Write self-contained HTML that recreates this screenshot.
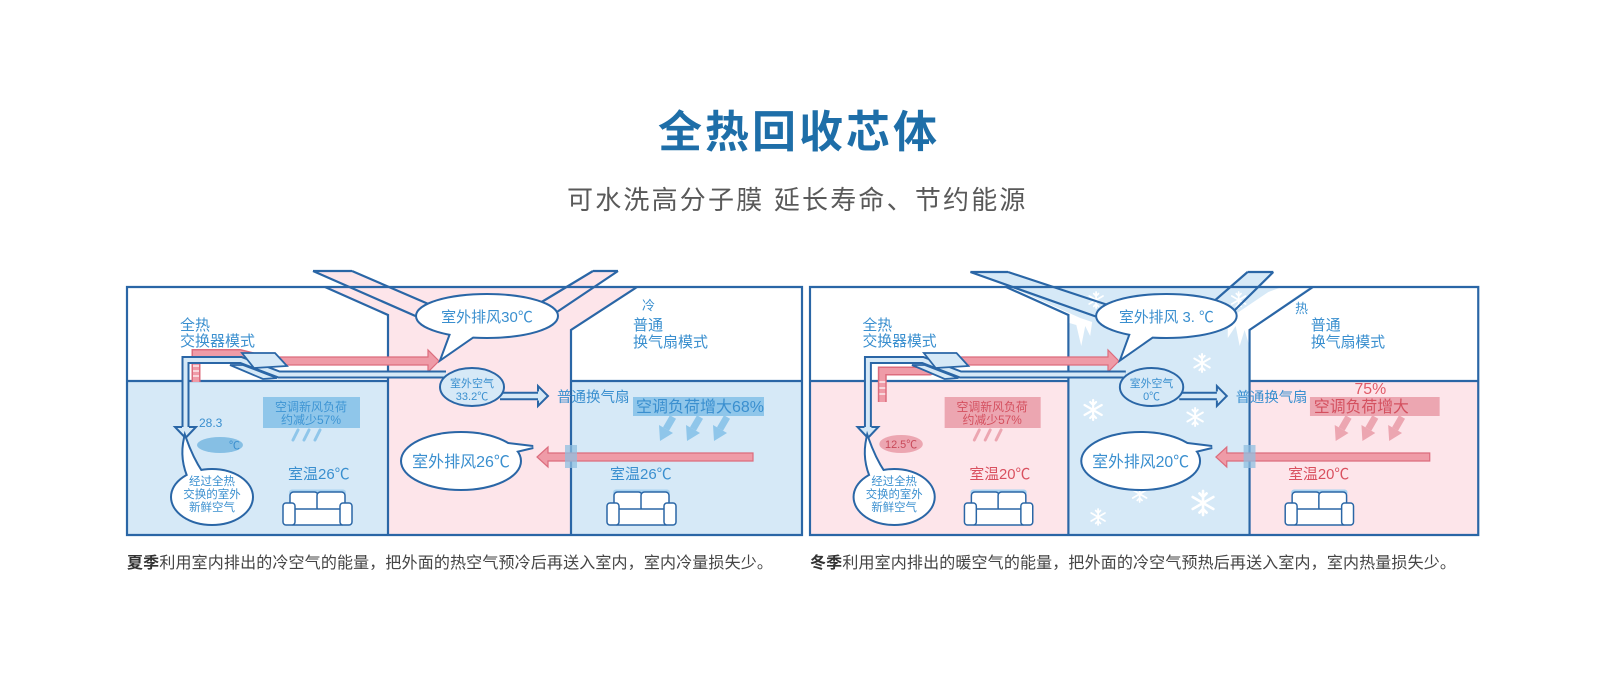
<!DOCTYPE html>
<html><head><meta charset="utf-8">
<style>
html,body{margin:0;padding:0;background:#fff;}
svg{display:block;}
text{font-family:"Liberation Sans","Noto Sans CJK SC",sans-serif;}
</style></head><body>
<svg width="1600" height="693" viewBox="0 0 1600 693" xmlns="http://www.w3.org/2000/svg">
<defs>
 <g id="sofa">
  <rect x="6" y="-2.5" width="57" height="6" rx="3" fill="#a8d2f0"/>
  <rect x="7" y="0" width="28" height="19" rx="3.5" fill="#fff" stroke="#2a66a6" stroke-width="1.5"/>
  <rect x="34" y="0" width="28" height="19" rx="3.5" fill="#fff" stroke="#2a66a6" stroke-width="1.5"/>
  <rect x="10" y="17" width="49" height="16" fill="#fff" stroke="#2a66a6" stroke-width="1.5"/>
  <rect x="0" y="11" width="12" height="22" rx="3" fill="#fff" stroke="#2a66a6" stroke-width="1.5"/>
  <rect x="57" y="11" width="12" height="22" rx="3" fill="#fff" stroke="#2a66a6" stroke-width="1.5"/>
 </g>
 <g id="snow" stroke="#fff" stroke-width="2.2" stroke-linecap="round" fill="none">
  <path d="M0,-10V10M-8.7,-5L8.7,5M-8.7,5L8.7,-5M-3,-8L0,-5L3,-8M-3,8L0,5L3,8"/>
 </g>
 <g id="bigarrows">
  <line x1="16" y1="417" x2="9" y2="429" stroke-width="7"/>
  <polygon points="2,425 16,433 3,441" stroke="none"/>
 </g>
</defs>

<!-- Title -->
<text x="658" y="147" font-size="44" font-weight="bold" fill="#1e6ea8" letter-spacing="3">全热回收芯体</text>
<text x="567" y="209" font-size="26" fill="#595959" letter-spacing="2.2">可水洗高分子膜 延长寿命、节约能源</text>

<!-- ================= SUMMER ================= -->
<g>
<rect x="127" y="381" width="261" height="154" fill="#d6e9f7"/>
<rect x="571" y="381" width="231" height="154" fill="#d6e9f7"/>
<polygon points="325,287 637,287 571,330 571,535 388,535 388,315" fill="#fde5ea"/>
<polygon points="313,271 352,271 440,309 420,318" fill="#fde5ea"/>
<polygon points="593,271 618,271 548,318 535,306" fill="#fde5ea"/>
<g fill="none" stroke="#2a66a6" stroke-width="2.2">
 <path d="M127,287H802V535H127Z"/>
 <path d="M325,287L388,315V535M637,287L571,330V535M127,381H388M571,381H802"/>
 <path d="M313,271H352M313,271L420,318M352,271L440,309M593,271H618M593,271L535,306M618,271L548,318"/>
</g>

<!-- boxes -->
<rect x="263" y="397" width="97" height="31" fill="#8fc6ea"/>
<text x="311" y="411" font-size="12" text-anchor="middle" fill="#3e95d4">空调新风负荷</text>
<text x="311" y="424" font-size="12" text-anchor="middle" fill="#3e95d4">约减少57%</text>
<g stroke="#8fc6ea" stroke-width="3" stroke-linecap="round">
 <line x1="298" y1="430" x2="293" y2="440"/><line x1="309" y1="430" x2="304" y2="440"/><line x1="320" y1="430" x2="315" y2="440"/>
</g>
<rect x="633" y="397" width="131" height="19" fill="#8fc6ea"/>
<text x="636" y="412" font-size="16" fill="#3a8fcf">空调负荷增大68%</text>
<g fill="#8fc6ea" stroke="#8fc6ea">
 <use href="#bigarrows" transform="translate(657,0)"/>
 <use href="#bigarrows" transform="translate(684,0)"/>
 <use href="#bigarrows" transform="translate(711,0)"/>
</g>

<!-- pink exhaust path -->
<path d="M196,382V353.5H240L270,361" fill="none" stroke="#dc6c7d" stroke-width="9"/>
<path d="M196,382V353.5H240L270,361" fill="none" stroke="#ef9ba7" stroke-width="6"/>
<g stroke="#fff" stroke-width="1.2"><line x1="193" y1="366" x2="199" y2="366"/><line x1="193" y1="371" x2="199" y2="371"/><line x1="193" y1="376" x2="199" y2="376"/></g>
<polygon points="268,357 428,357 428,350 439,361 428,372 428,365 268,365" fill="#ef9ba7" stroke="#dc6c7d" stroke-width="1.2"/>

<!-- blue fresh air pipe -->
<path d="M446,374.5H279L241,360H185.5V428" fill="none" stroke="#2a66a6" stroke-width="8" stroke-linejoin="miter"/>
<path d="M446,374.5H279L241,360H185.5V429" fill="none" stroke="#d6e9f7" stroke-width="4" stroke-linejoin="miter"/>
<path d="M182,427H175L185.5,438L196,427H189" fill="#d6e9f7" stroke="#2a66a6" stroke-width="2"/>
<polygon points="242,353 275,353 287,366 254,368" fill="#d6e9f7" stroke="#2a66a6" stroke-width="1.8"/>
<polygon points="230,365 243,365 277,378 263,379" fill="#d6e9f7" stroke="#2a66a6" stroke-width="1.8"/>

<!-- arrow to fan -->
<path d="M500,396H539" stroke="#2a66a6" stroke-width="8.5"/>
<path d="M500,396H540" stroke="#d6e9f7" stroke-width="4.5"/>
<path d="M538,391.5V386L548,396L538,406V400.5" fill="#d6e9f7" stroke="#2a66a6" stroke-width="2"/>

<!-- bottom pink arrow + vent -->
<polygon points="753,453 548,453 548,447 537,457 548,467 548,461 753,461" fill="#ef9ba7" stroke="#dc6c7d" stroke-width="1.2"/>
<rect x="565" y="445" width="12" height="23" fill="#8fbfe0" opacity="0.75"/>

<!-- temp ellipse -->
<ellipse cx="220" cy="445" rx="23" ry="8" fill="#86bfe4"/>
<text x="199" y="427" font-size="12" fill="#3a8fcf">28.3</text>
<text x="229" y="449" font-size="11" fill="#3a8fcf">℃</text>

<!-- bubble A -->
<path d="M452,331L442,358L478,333Z" fill="#fff" stroke="#2a66a6" stroke-width="4"/>
<ellipse cx="487" cy="316" rx="70" ry="21" fill="#fff" stroke="#2a66a6" stroke-width="4"/>
<path d="M452,331L442,358L478,333Z" fill="#fff"/>
<ellipse cx="487" cy="316" rx="70" ry="21" fill="#fff"/>
<text x="487" y="322" font-size="15" text-anchor="middle" fill="#3a8fcf">室外排风30℃</text>

<!-- bubble B -->
<ellipse cx="472" cy="387" rx="32" ry="19" fill="#d6e9f7" stroke="#2a66a6" stroke-width="2"/>
<text x="472" y="387" font-size="11" text-anchor="middle" fill="#3a8fcf">室外空气</text>
<text x="472" y="400" font-size="11" text-anchor="middle" fill="#3a8fcf">33.2℃</text>

<!-- bubble C -->
<path d="M500,443L533,447L512,452Z" fill="#fff" stroke="#2a66a6" stroke-width="4"/>
<ellipse cx="461" cy="461" rx="59" ry="28" fill="#fff" stroke="#2a66a6" stroke-width="4"/>
<path d="M500,443L533,447L512,452Z" fill="#fff"/>
<ellipse cx="461" cy="461" rx="59" ry="28" fill="#fff"/>
<text x="461" y="467" font-size="16" text-anchor="middle" fill="#3a8fcf">室外排风26℃</text>

<!-- bubble D -->
<path d="M190,480Q180,460 185,438Q192,458 202,473Z" fill="#fff" stroke="#2a66a6" stroke-width="4"/>
<ellipse cx="212" cy="497" rx="40" ry="27" fill="#fff" stroke="#2a66a6" stroke-width="4"/>
<path d="M190,480Q180,460 185,438Q192,458 202,473Z" fill="#fff"/>
<ellipse cx="212" cy="497" rx="40" ry="27" fill="#fff"/>
<text x="212" y="485" font-size="11.5" text-anchor="middle" fill="#3a8fcf">经过全热</text>
<text x="212" y="498" font-size="11.5" text-anchor="middle" fill="#3a8fcf">交换的室外</text>
<text x="212" y="511" font-size="11.5" text-anchor="middle" fill="#3a8fcf">新鲜空气</text>

<!-- labels -->
<text x="180" y="330" font-size="15" fill="#3a8fcf">全热</text>
<text x="180" y="346" font-size="15" fill="#3a8fcf">交换器模式</text>
<text x="642" y="310" font-size="13" fill="#3a8fcf">冷</text>
<text x="633" y="330" font-size="15" fill="#3a8fcf">普通</text>
<text x="633" y="347" font-size="15" fill="#3a8fcf">换气扇模式</text>
<text x="557" y="402" font-size="14.5" fill="#3a8fcf">普通换气扇</text>
<text x="288" y="479" font-size="15" fill="#3a8fcf">室温26℃</text>
<text x="610" y="479" font-size="15" fill="#3a8fcf">室温26℃</text>

<use href="#sofa" transform="translate(283,492)"/>
<use href="#sofa" transform="translate(607,492)"/>
</g>

<!-- ================= WINTER ================= -->
<g transform="matrix(0.99 0 0 1 684.27 0)">
<rect x="127" y="381" width="261" height="154" fill="#fde5ea"/>
<rect x="571" y="381" width="231" height="154" fill="#fde5ea"/>
<polygon points="325,287 635,287 571,330 571,535 388,535 388,315" fill="#d6e9f7"/>
<polygon points="289,272 327,272 440,309 420,318" fill="#d6e9f7"/>
<polygon points="569,272 595,272 548,318 533,303" fill="#d6e9f7"/>

<!-- icicles -->
<path d="M330,287L400,318L412,322L410,336L405,326L401,346L396,325L389,323L387,338L383,319L371,312L369,325L364,309L352,302L350,312L344,297Z" fill="#fff"/>
<path d="M612,284L632,287L600,309L575,327L572,350L566,330L561,346L557,326L549,338L549,322L560,312L590,292Z" fill="#fff"/>
<g>
 <use href="#snow" transform="translate(413,410)"/>
 <use href="#snow" transform="translate(416,300) scale(0.8)"/>
 <use href="#snow" transform="translate(418,517) scale(0.8)"/>
 <use href="#snow" transform="translate(523,363) scale(0.9)"/>
 <use href="#snow" transform="translate(516,417) scale(0.9)"/>
 <use href="#snow" transform="translate(524,503) scale(1.2)"/>
 <use href="#snow" transform="translate(460,494) scale(0.8)"/>
 <use href="#snow" transform="translate(560,300) scale(0.8)"/>
</g>

<g fill="none" stroke="#2a66a6" stroke-width="2.2">
 <path d="M127,287H802V535H127Z"/>
 <path d="M325,287L388,315V535M635,287L571,330V535M127,381H388M571,381H802"/>
 <path d="M289,272H327M289,272L420,318M327,272L440,309M569,272H595M569,272L533,303M595,272L548,318"/>
</g>

<rect x="263" y="397" width="97" height="31" fill="#eca6b1"/>
<text x="311" y="411" font-size="12" text-anchor="middle" fill="#d4505f">空调新风负荷</text>
<text x="311" y="424" font-size="12" text-anchor="middle" fill="#d4505f">约减少57%</text>
<g stroke="#eca6b1" stroke-width="3" stroke-linecap="round">
 <line x1="298" y1="430" x2="293" y2="440"/><line x1="309" y1="430" x2="304" y2="440"/><line x1="320" y1="430" x2="315" y2="440"/>
</g>
<rect x="632" y="397" width="131" height="19" fill="#eca6b1"/>
<text x="636" y="412" font-size="16" fill="#d4505f">空调负荷增大</text>
<text x="677" y="394" font-size="16" fill="#e05a68">75%</text>
<g fill="#eca6b1" stroke="#eca6b1">
 <use href="#bigarrows" transform="translate(655,0)"/>
 <use href="#bigarrows" transform="translate(682,0)"/>
 <use href="#bigarrows" transform="translate(709,0)"/>
</g>

<path d="M200,402V371H248L274,361" fill="none" stroke="#dc6c7d" stroke-width="9"/>
<path d="M200,402V371H248L274,361" fill="none" stroke="#ef9ba7" stroke-width="6"/>
<g stroke="#fff" stroke-width="1.2"><line x1="197" y1="382" x2="203" y2="382"/><line x1="197" y1="388" x2="203" y2="388"/><line x1="197" y1="394" x2="203" y2="394"/></g>
<polygon points="272,357 428,357 428,350 439,361 428,372 428,365 272,365" fill="#ef9ba7" stroke="#dc6c7d" stroke-width="1.2"/>

<path d="M446,374.5H279L241,360H185.5V428" fill="none" stroke="#2a66a6" stroke-width="8" stroke-linejoin="miter"/>
<path d="M446,374.5H279L241,360H185.5V429" fill="none" stroke="#d6e9f7" stroke-width="4" stroke-linejoin="miter"/>
<path d="M182,427H175L185.5,438L196,427H189" fill="#d6e9f7" stroke="#2a66a6" stroke-width="2"/>
<polygon points="242,353 275,353 287,366 254,368" fill="#d6e9f7" stroke="#2a66a6" stroke-width="1.8"/>
<polygon points="230,365 243,365 277,378 263,379" fill="#d6e9f7" stroke="#2a66a6" stroke-width="1.8"/>

<path d="M500,396H539" stroke="#2a66a6" stroke-width="8.5"/>
<path d="M500,396H540" stroke="#d6e9f7" stroke-width="4.5"/>
<path d="M538,391.5V386L548,396L538,406V400.5" fill="#d6e9f7" stroke="#2a66a6" stroke-width="2"/>

<polygon points="753,453 548,453 548,447 537,457 548,467 548,461 753,461" fill="#ef9ba7" stroke="#dc6c7d" stroke-width="1.2"/>
<rect x="565" y="445" width="12" height="23" fill="#8fbfe0" opacity="0.75"/>

<ellipse cx="219" cy="444" rx="22" ry="9" fill="#eca6b1"/>
<text x="219" y="448" font-size="11" text-anchor="middle" fill="#c84858">12.5℃</text>

<path d="M452,331L442,358L478,333Z" fill="#fff" stroke="#2a66a6" stroke-width="4"/>
<ellipse cx="487" cy="316" rx="70" ry="21" fill="#fff" stroke="#2a66a6" stroke-width="4"/>
<path d="M452,331L442,358L478,333Z" fill="#fff"/>
<ellipse cx="487" cy="316" rx="70" ry="21" fill="#fff"/>
<text x="487" y="322" font-size="15" text-anchor="middle" fill="#3a8fcf">室外排风 3. ℃</text>

<ellipse cx="472" cy="387" rx="32" ry="19" fill="#d6e9f7" stroke="#2a66a6" stroke-width="2"/>
<text x="472" y="387" font-size="11" text-anchor="middle" fill="#3a8fcf">室外空气</text>
<text x="472" y="400" font-size="11" text-anchor="middle" fill="#3a8fcf">0℃</text>

<path d="M500,443L533,447L512,452Z" fill="#fff" stroke="#2a66a6" stroke-width="4"/>
<ellipse cx="461" cy="461" rx="59" ry="28" fill="#fff" stroke="#2a66a6" stroke-width="4"/>
<path d="M500,443L533,447L512,452Z" fill="#fff"/>
<ellipse cx="461" cy="461" rx="59" ry="28" fill="#fff"/>
<text x="461" y="467" font-size="16" text-anchor="middle" fill="#3a8fcf">室外排风20℃</text>

<path d="M190,480Q180,460 185,438Q192,458 202,473Z" fill="#fff" stroke="#2a66a6" stroke-width="4"/>
<ellipse cx="212" cy="497" rx="40" ry="27" fill="#fff" stroke="#2a66a6" stroke-width="4"/>
<path d="M190,480Q180,460 185,438Q192,458 202,473Z" fill="#fff"/>
<ellipse cx="212" cy="497" rx="40" ry="27" fill="#fff"/>
<text x="212" y="485" font-size="11.5" text-anchor="middle" fill="#3a8fcf">经过全热</text>
<text x="212" y="498" font-size="11.5" text-anchor="middle" fill="#3a8fcf">交换的室外</text>
<text x="212" y="511" font-size="11.5" text-anchor="middle" fill="#3a8fcf">新鲜空气</text>

<text x="180" y="330" font-size="15" fill="#3a8fcf">全热</text>
<text x="180" y="346" font-size="15" fill="#3a8fcf">交换器模式</text>
<text x="617" y="313" font-size="13" fill="#3a8fcf">热</text>
<text x="633" y="330" font-size="15" fill="#3a8fcf">普通</text>
<text x="633" y="347" font-size="15" fill="#3a8fcf">换气扇模式</text>
<text x="557" y="402" font-size="14.5" fill="#3a8fcf">普通换气扇</text>
<text x="288" y="479" font-size="15" fill="#d9505f">室温20℃</text>
<text x="610" y="479" font-size="15" fill="#d9505f">室温20℃</text>

<use href="#sofa" transform="translate(283,492)"/>
<use href="#sofa" transform="translate(607,492)"/>
</g>

<!-- captions -->
<text x="127" y="568" font-size="16" fill="#444" letter-spacing="0.15"><tspan font-weight="bold" fill="#333">夏季</tspan>利用室内排出的冷空气的能量，把外面的热空气预冷后再送入室内，室内冷量损失少。</text>
<text x="810" y="568" font-size="16" fill="#444" letter-spacing="0.15"><tspan font-weight="bold" fill="#333">冬季</tspan>利用室内排出的暖空气的能量，把外面的冷空气预热后再送入室内，室内热量损失少。</text>
</svg>
</body></html>
